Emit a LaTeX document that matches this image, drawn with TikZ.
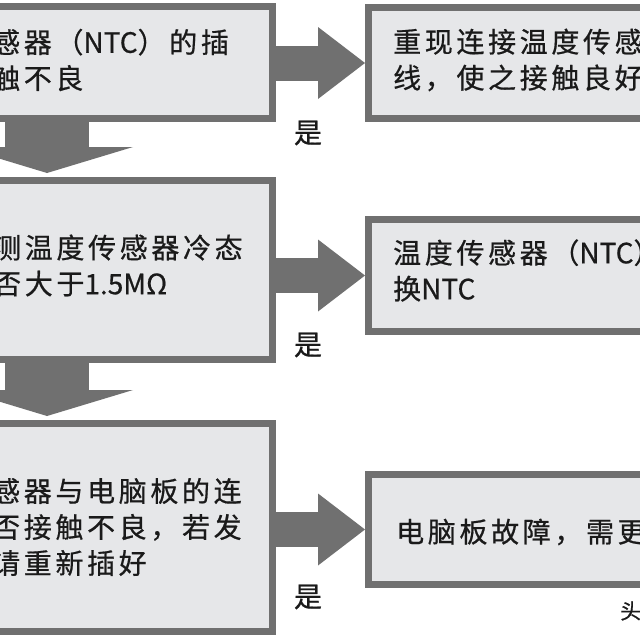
\documentclass[tikz,border=0pt]{standalone}
\usepackage{fontspec}
\newfontfamily\cjk[LetterSpace=13, FakeBold=0.6]{Noto Sans CJK SC}
\newfontfamily\latn[FakeBold=0.6]{Noto Sans CJK SC}
\usetikzlibrary{arrows.meta}
\definecolor{framegray}{HTML}{707070}
\definecolor{boxfill}{HTML}{E6E7E9}
\definecolor{inkblack}{HTML}{1A1A1A}
\newcommand{\ntc}{{\latn NTC}}

\begin{document}
\begin{tikzpicture}[x=1pt, y=-1pt,
  box/.style = {draw=framegray, line width=7pt, fill=boxfill, inner sep=0pt},
  txt/.style = {font=\cjk\fontsize{28}{36}\selectfont, text=inkblack, align=left, inner sep=0pt, anchor=west},
  yes/.style = {font=\cjk\fontsize{28}{36}\selectfont, text=inkblack, inner sep=0pt},
  sidearrow/.style = {framegray, line width=35pt, -{Triangle[length=47pt, width=72pt, line width=0pt]}},
  downarrow/.style = {framegray, line width=84pt, shorten >=4pt, -{Triangle[length=26pt, width=172pt, line width=0pt]}}]
\path[use as bounding box, fill=white] (0,0) rectangle (640,640);
\clip (0,0) rectangle (640,640);
% question boxes
\node[box, minimum width=451pt, minimum height=112pt] (q1) at (47,62.5) {};
\node[box, minimum width=451pt, minimum height=179pt] (q2) at (47,270) {};
\node[box, minimum width=451pt, minimum height=208pt] (q3) at (47,527.5) {};
% result boxes
\node[box, minimum width=331pt, minimum height=111pt] (r1) at (534,63) {};
\node[box, minimum width=331pt, minimum height=112pt] (r2) at (534,275.5) {};
\node[box, minimum width=331pt, minimum height=110pt] (r3) at (534,529.5) {};
% texts
\node[txt] (q1text) at (-8,60) {感器（\ntc）的插\\触不良};
\node[txt] (q2text) at (-7,265.5) {测温度传感器冷态\\否大于{\latn 1.5M}Ω};
\node[txt] (q3text) at (-8,527) {感器与电脑板的连\\否接触不良，若发\\请重新插好};
\node[txt] (r1text) at (393,60) {重现连接温度传感\\线，使之接触良好};
\node[txt] (r2text) at (393,270.5) {温度传感器（\ntc）\\换\ntc};
\node[txt] (r3text) at (396,532) {电脑板故障，需更};
\node[yes] (y1) at (308,133) {是};
\node[yes] (y2) at (308,345) {是};
\node[yes] (y3) at (308,597) {是};
\node[yes, font=\cjk\fontsize{21}{21}\selectfont, anchor=west] (mark) at (620,611) {头};
% arrows
\draw[downarrow] (q1) -- (q2);
\draw[downarrow] (q2) -- (q3);
\draw[sidearrow] (r1.west -| q1.east) -- (r1.west);
\draw[sidearrow] (r2.west -| q2.east) -- (r2.west);
\draw[sidearrow] (r3.west -| q3.east) -- (r3.west);
\end{tikzpicture}
\end{document}
